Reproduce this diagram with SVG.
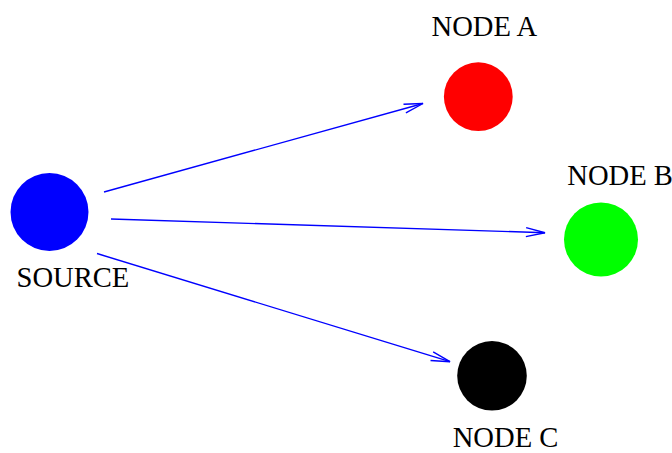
<svg xmlns="http://www.w3.org/2000/svg" width="672" height="453" viewBox="0 0 672 453">
<defs>
<marker id="arr" markerUnits="userSpaceOnUse" markerWidth="24" markerHeight="14" viewBox="-20 -7 24 14" refX="0" refY="0" orient="auto">
<path d="M-19,-4.5 L0,0 L-19,4.5" fill="none" stroke="#0000ff" stroke-width="1.4"/>
</marker>
<style>
.lbl{font-family:"Liberation Serif","Times New Roman",serif;font-size:28.6px;fill:#000}
.edge{stroke:#0000ff;stroke-width:1.4;fill:none;marker-end:url(#arr)}
</style>
</defs>
<rect width="672" height="453" fill="#fff"/>
<g id="connectors">
<line class="edge" x1="104" y1="192" x2="423" y2="103.5"/>
<line class="edge" x1="111" y1="219" x2="545" y2="232.7"/>
<line class="edge" x1="97" y1="253.5" x2="450" y2="361.7"/>
</g>
<g id="source">
<circle cx="49.5" cy="212" r="39" fill="#0000ff"/>
<text class="lbl" x="16.5" y="287">SOURCE</text>
</g>
<g id="nodeA">
<circle cx="478.3" cy="96.7" r="34.4" fill="#ff0000"/>
<text class="lbl" x="431.5" y="35.7">NODE A</text>
</g>
<g id="nodeB">
<circle cx="601" cy="239.5" r="37" fill="#00ff00"/>
<text class="lbl" x="567.3" y="185">NODE B</text>
</g>
<g id="nodeC">
<circle cx="492" cy="375.8" r="34.8" fill="#000"/>
<text class="lbl" x="452.7" y="446.5">NODE C</text>
</g>
</svg>
